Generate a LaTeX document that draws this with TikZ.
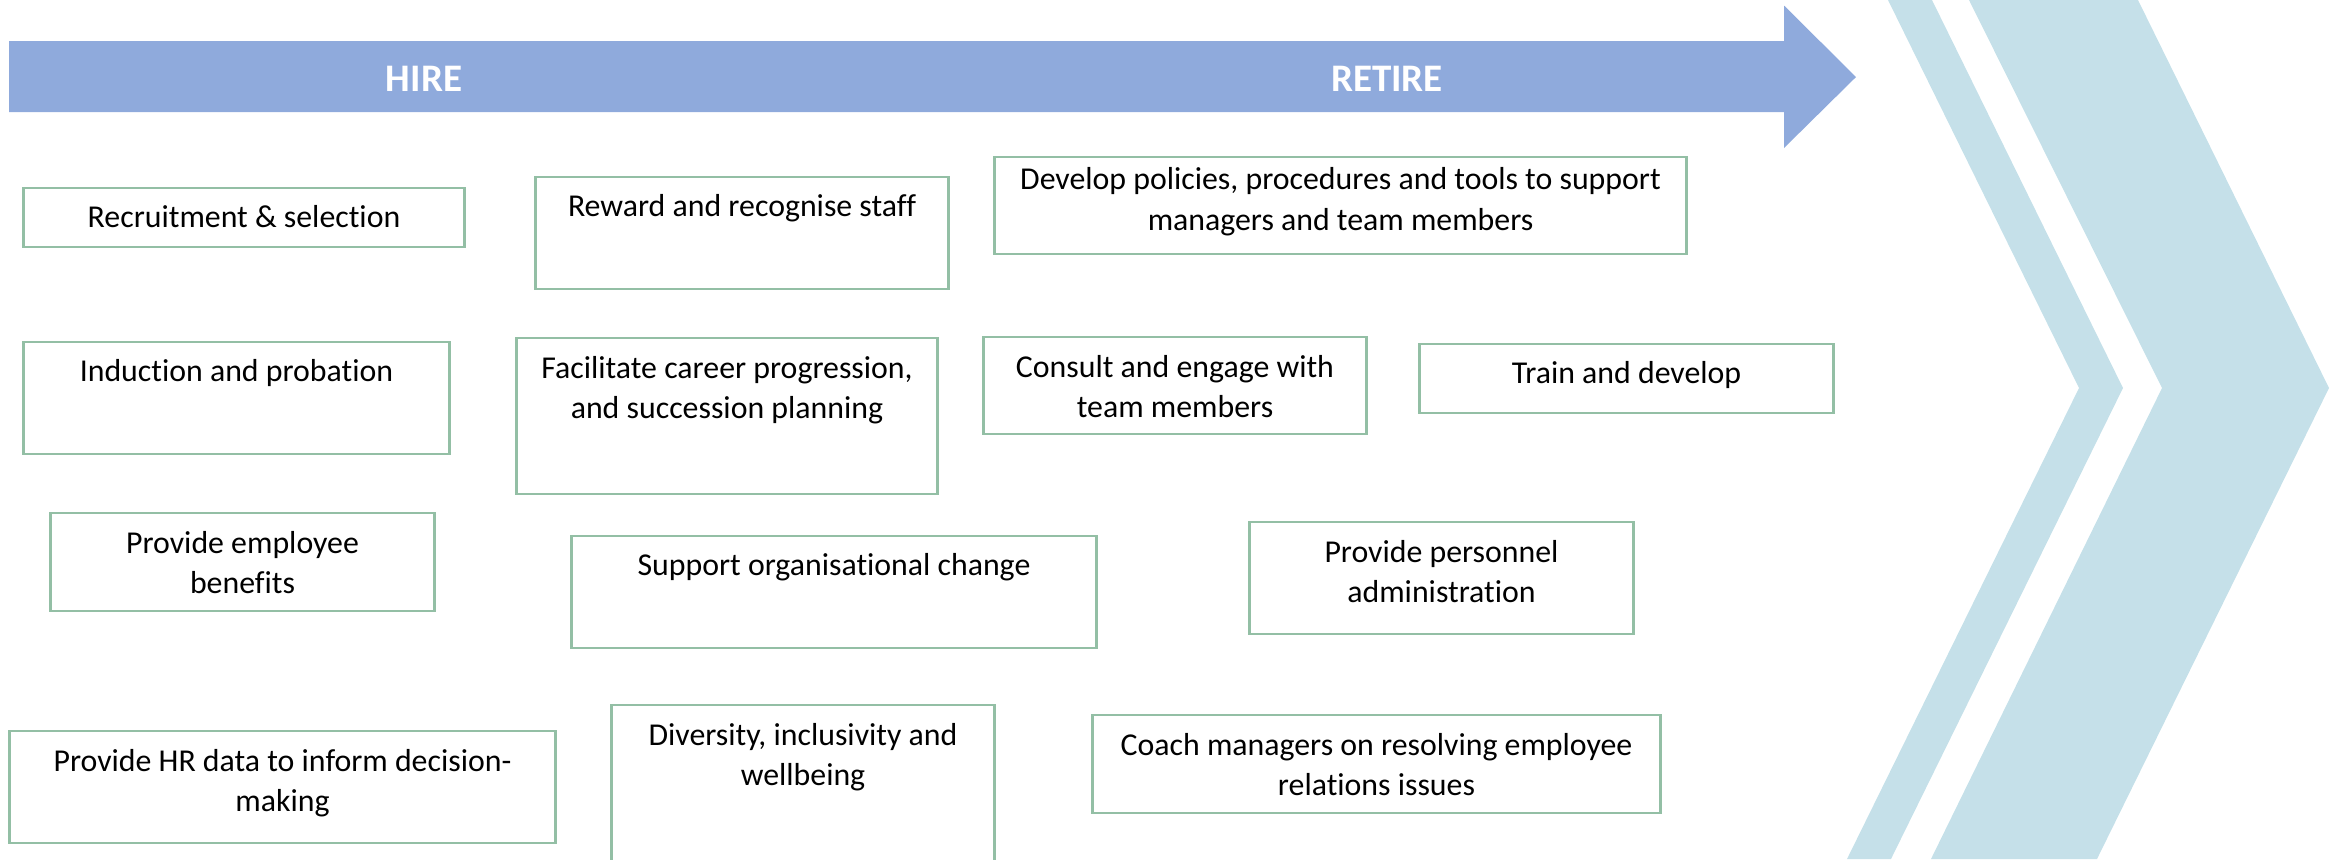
\documentclass[tikz,border=0pt]{standalone}
\usepackage{fontspec}
\setmainfont[Ligatures=NoCommon]{Carlito}
\usetikzlibrary{positioning}
\definecolor{arrowblue}{HTML}{8FAADC}
\definecolor{chevblue}{HTML}{C5E0E9}
\definecolor{boxgreen}{HTML}{93BFA5}
\tikzset{
  box/.style={draw=boxgreen, line width=0.8pt, inner sep=0pt},
  txt/.style={inner sep=0pt, align=center, font=\fontsize{9.05}{11.5}\selectfont, execute at begin node=\strut},
  phase/.style={text=white, font=\fontsize{11.1}{13}\selectfont\bfseries},
}
\begin{document}
\begin{tikzpicture}[x=0.01cm, y=-0.01cm]
\useasboundingbox (0,0) rectangle (2341,859);
\clip (0,0) rectangle (2341,859);
% chevrons on the right
\fill[chevblue] (1888,0) -- (1932,0) -- (2123,388) -- (1891,859) -- (1847,859) -- (2079,388) -- cycle;
\fill[chevblue] (1969,0) -- (2138,0) -- (2329,388) -- (2097,859) -- (1931,859) -- (2162,388) -- cycle;
% timeline arrow
\fill[arrowblue] (9,41) -- (1784,41) -- (1784,5.5) -- (1856,77) -- (1784,148) -- (1784,112) -- (9,112) -- cycle;
\node[phase] (hire) at (424,79) {HIRE};
\node[phase] (retire) at (1387,79) {RETIRE};
% boxes, row 1
\node[box, minimum width=4.40cm, minimum height=0.59cm] (rec) at (244,217.5) {};
\node[box, minimum width=4.12cm, minimum height=1.12cm] (rew) at (742,233) {};
\node[box, minimum width=6.91cm, minimum height=0.97cm] (dev) at (1340.5,205.5) {};
\node[txt, below=3.3pt of rec.north] (recT) {Recruitment \& selection};
\node[txt, below=3.3pt of rew.north] (rewT) {Reward and recognise staff};
\node[txt, below=3.3pt of dev.north] (devT) {Develop policies, procedures and tools to support\\managers and team members};
% row 2
\node[box, minimum width=4.25cm, minimum height=1.12cm] (ind) at (236.5,398) {};
\node[box, minimum width=4.20cm, minimum height=1.56cm] (fac) at (727,416) {};
\node[box, minimum width=3.82cm, minimum height=0.97cm] (con) at (1175,385.5) {};
\node[box, minimum width=4.13cm, minimum height=0.69cm] (trn) at (1626.5,378.5) {};
\node[txt, below=3.3pt of ind.north] (indT) {Induction and probation};
\node[txt, below=5.4pt of fac.north] (facT) {Facilitate career progression,\\and succession planning};
\node[txt, below=5.4pt of con.north] (conT) {Consult and engage with\\team members};
\node[txt, below=3.3pt of trn.north] (trnT) {Train and develop};
% row 3
\node[box, minimum width=3.83cm, minimum height=0.98cm] (ben) at (242.5,562) {};
\node[box, minimum width=5.24cm, minimum height=1.12cm] (sup) at (834,592) {};
\node[box, minimum width=3.83cm, minimum height=1.12cm] (per) at (1441.5,578) {};
\node[txt, below=5.4pt of ben.north] (benT) {Provide employee\\benefits};
\node[txt, below=3.3pt of sup.north] (supT) {Support organisational change};
\node[txt, below=5.4pt of per.north] (perT) {Provide personnel\\administration};
% row 4
\node[box, minimum width=5.45cm, minimum height=1.12cm] (hrd) at (282.5,787) {};
\node[box, minimum width=3.82cm, minimum height=1.75cm] (div) at (803,792.5) {};
\node[box, minimum width=5.67cm, minimum height=0.98cm] (coa) at (1376.5,764) {};
\node[txt, below=5.4pt of hrd.north] (hrdT) {Provide HR data to inform decision-\\making};
\node[txt, below=5.4pt of div.north] (divT) {Diversity, inclusivity and\\wellbeing};
\node[txt, below=5.4pt of coa.north] (coaT) {Coach managers on resolving employee\\relations issues};
\end{tikzpicture}
\end{document}
